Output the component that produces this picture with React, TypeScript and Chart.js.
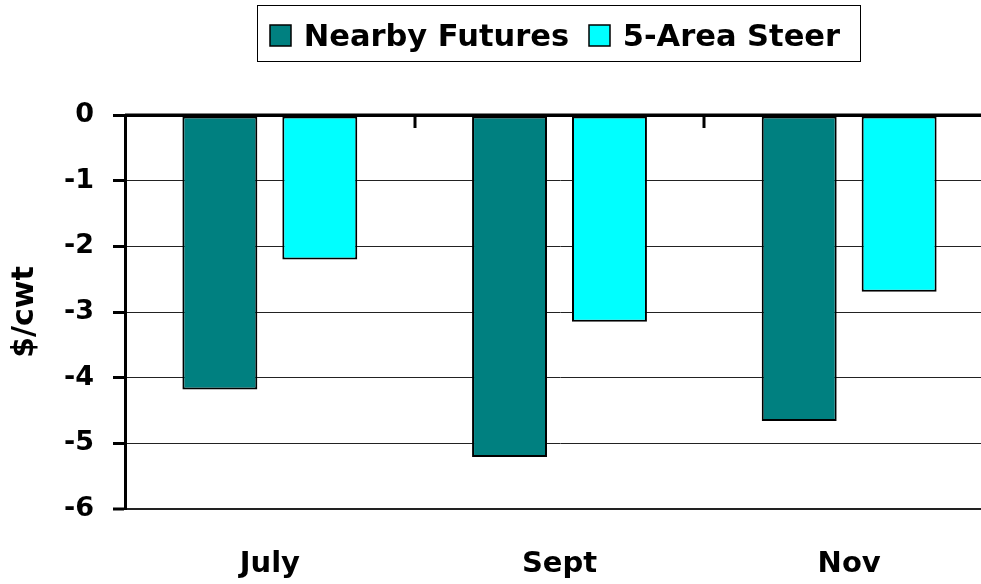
import React, { useEffect, useRef } from 'react';
import { Chart, registerables } from 'chart.js';

Chart.register(...registerables);

const categories = ['July', 'Sept', 'Nov'];
const nearbyFutures = [-4.18, -5.21, -4.66];
const fiveAreaSteer = [-2.2, -3.15, -2.69];
const seriesNames = ['Nearby Futures', '5-Area Steer'];
const seriesColors = ['#008080', '#00FFFF'];
const yMin = -6;
const yMax = 0;
const yStep = 1;
const yTitle = '$/cwt';

const FONT = '"DejaVu Sans", "Liberation Sans", Arial, sans-serif';

const decorPlugin = {
  id: 'excelDecor',
  afterDraw(chart: any) {
    const ctx = chart.ctx;
    const xs = chart.scales.x;
    const ys = chart.scales.y;
    const y0 = ys.getPixelForValue(0);
    ctx.save();
    // category boundary tick marks on the zero line
    ctx.strokeStyle = '#000';
    ctx.lineWidth = 3;
    for (let i = 0; i < categories.length - 1; i++) {
      const bx = Math.round((xs.getPixelForValue(i) + xs.getPixelForValue(i + 1)) / 2);
      ctx.beginPath();
      ctx.moveTo(bx, y0);
      ctx.lineTo(bx, y0 + 13);
      ctx.stroke();
    }
    // zero line redrawn on top of bars
    ctx.beginPath();
    ctx.moveTo(chart.chartArea.left, y0);
    ctx.lineTo(chart.chartArea.right, y0);
    ctx.stroke();
    // boxed legend
    ctx.font = `bold 30.5px ${FONT}`;
    const sq = 21;
    const gapText = 12.6;
    const gapItem = 20;
    const padL = 12.6;
    const padR = 20;
    const ds = chart.data.datasets;
    const widths = ds.map((d: any) => ctx.measureText(d.label).width);
    let total = padL + padR + gapItem * (ds.length - 1);
    widths.forEach((w: number) => { total += sq + gapText + w; });
    const cx = (chart.chartArea.left + chart.chartArea.right) / 2 - 1.5;
    const left = Math.round(cx - total / 2) + 0.5;
    const top = 5.5;
    const h = 56;
    ctx.lineWidth = 1;
    ctx.strokeStyle = '#000';
    ctx.strokeRect(left, top, Math.round(total), h);
    let x = left + padL;
    const baseline = 45.7;
    ds.forEach((d: any, i: number) => {
      const sx = Math.round(x);
      ctx.fillStyle = d.backgroundColor;
      ctx.fillRect(sx, 25, sq, sq);
      ctx.lineWidth = 1.5;
      ctx.strokeStyle = '#000';
      ctx.strokeRect(sx, 25, sq, sq);
      x += sq + gapText;
      ctx.fillStyle = '#000';
      ctx.textBaseline = 'alphabetic';
      ctx.textAlign = 'left';
      ctx.fillText(d.label, x, baseline);
      x += widths[i] + gapItem;
    });
    ctx.restore();
  },
};

export default function App() {
  const canvasRef = useRef<HTMLCanvasElement | null>(null);

  useEffect(() => {
    document.documentElement.style.overflow = 'hidden';
    document.body.style.overflow = 'hidden';
    const canvas = canvasRef.current;
    if (!canvas) return;
    const barStyle = {
      borderColor: '#000',
      borderWidth: 2,
      borderSkipped: false,
      categoryPercentage: 0.69,
      barPercentage: 0.75,
    };
    const chart = new Chart(canvas, {
      type: 'bar',
      data: {
        labels: categories,
        datasets: [
          { label: seriesNames[0], data: nearbyFutures, backgroundColor: seriesColors[0], ...barStyle },
          { label: seriesNames[1], data: fiveAreaSteer, backgroundColor: seriesColors[1], ...barStyle },
        ],
      },
      options: {
        responsive: false,
        animation: false,
        devicePixelRatio: 1,
        layout: { padding: { top: 115, right: 1, left: 0, bottom: 0 } },
        plugins: {
          legend: { display: false },
          tooltip: { enabled: false },
        },
        scales: {
          x: {
            grid: { display: false },
            border: { display: false },
            ticks: {
              color: '#000',
              font: { family: FONT, size: 29, weight: 'bold' },
              padding: 30,
            },
            afterFit: (s: any) => { s.height = 75; },
          },
          y: {
            min: yMin,
            max: yMax,
            ticks: {
              stepSize: yStep,
              color: '#000',
              padding: 19,
              font: { family: FONT, size: 27, weight: 'bold' },
            },
            grid: {
              color: (c: any) => (c.tick && c.tick.value === 0 ? '#000' : '#222'),
              lineWidth: (c: any) => (c.tick && c.tick.value === 0 ? 3 : c.tick && c.tick.value === yMin ? 2 : 1),
              tickLength: 12,
              tickWidth: 3,
              tickColor: '#000',
            },
            border: { display: true, color: '#000', width: 3 },
            title: {
              display: true,
              text: yTitle,
              color: '#000',
              font: { family: FONT, size: 30, weight: 'bold' },
              padding: { top: 7, bottom: 0 },
            },
            afterFit: (s: any) => { s.width = 125; },
          },
        },
      },
      plugins: [decorPlugin],
    });
    return () => chart.destroy();
  }, []);

  return (
    <div style={{ position: 'absolute', left: 0, top: 0, width: 995, height: 584 }}>
      <canvas ref={canvasRef} width={995} height={584} />
    </div>
  );
}
